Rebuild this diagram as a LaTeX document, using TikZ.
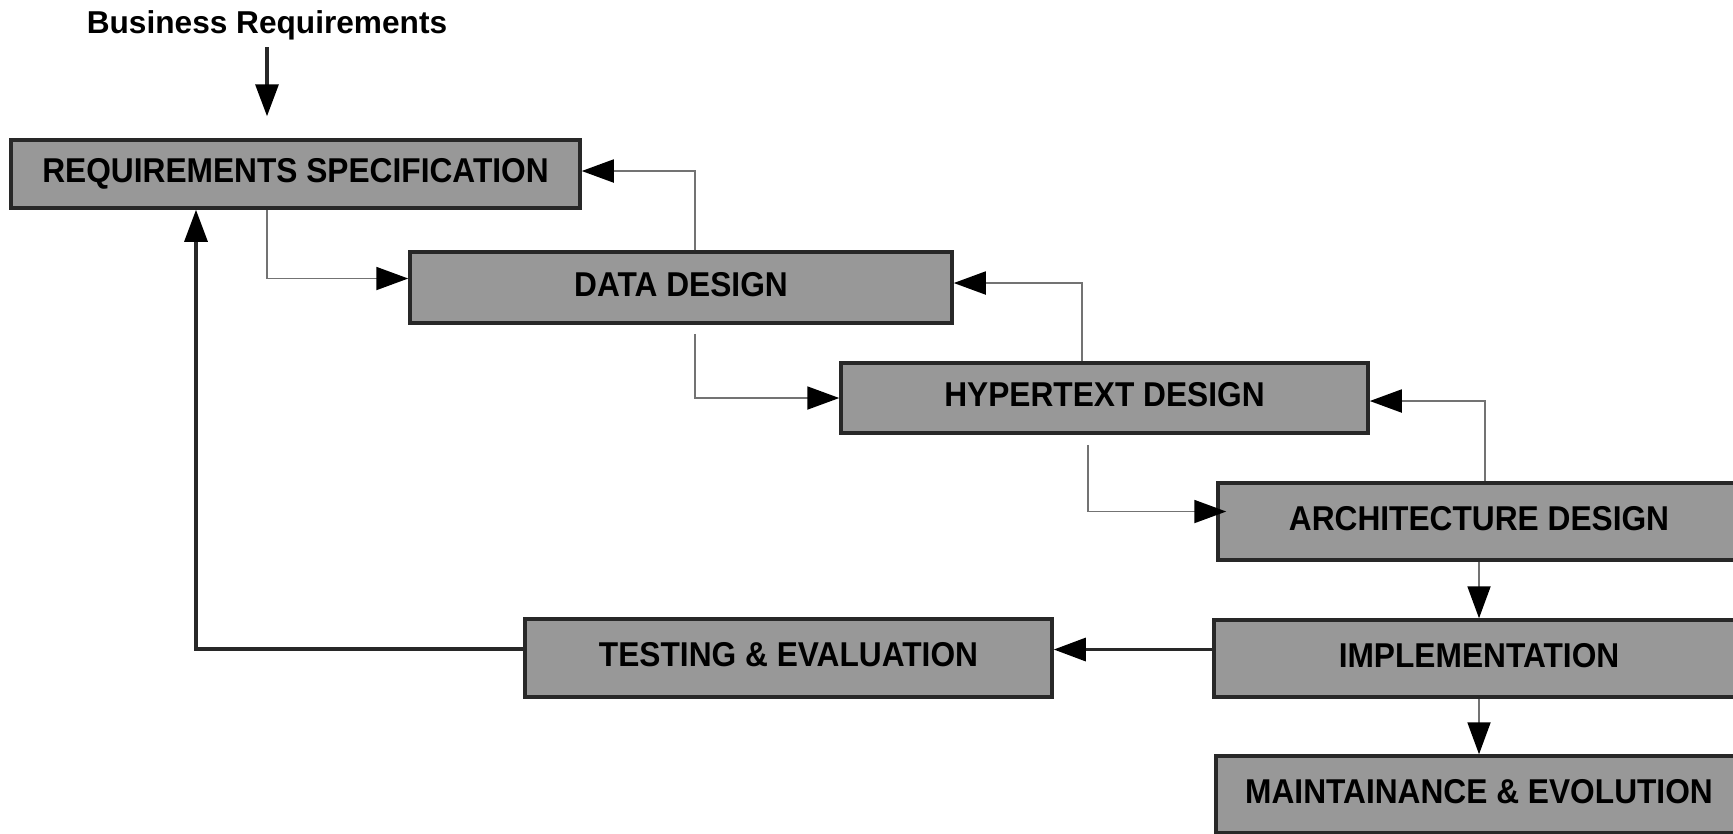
\documentclass[tikz,border=0pt]{standalone}
\usepackage{fontspec}
\setmainfont{Liberation Sans}
\newfontfamily\boxfont[FakeStretch=0.92]{Liberation Sans}
\usetikzlibrary{arrows.meta}
\definecolor{boxgray}{RGB}{152,152,152}
\definecolor{boxline}{RGB}{40,40,40}
\definecolor{thinline}{RGB}{115,115,115}

\begin{document}
\begin{tikzpicture}[
	blk/.style={draw=boxline, fill=boxgray, line width=1pt, inner sep=0pt, text height=7pt, text depth=2pt, font=\boxfont\bfseries\fontsize{9.8}{11}\selectfont},
	arr/.style={-{Triangle[length=3.2mm,width=2.3mm,color=black]}},
	fwd/.style={arr, draw=thinline, line width=0.55pt},
	dk/.style={arr, draw=boxline, line width=0.9pt}]
		\useasboundingbox (0,0) rectangle (17.33,-8.33);
		\clip (0,0) rectangle (17.33,-8.33);
		\node (v1) at (2.67,-0.25) [inner sep=2pt, font=\bfseries\fontsize{9}{10}\selectfont] {Business Requirements};
		\node (v2) at (2.955,-1.74) [blk, minimum width=5.69cm, minimum height=0.68cm] {REQUIREMENTS SPECIFICATION};
		\node (v3) at (6.81,-2.875) [blk, minimum width=5.42cm, minimum height=0.71cm] {DATA DESIGN};
		\node (v4) at (11.045,-3.98) [blk, minimum width=5.27cm, minimum height=0.70cm] {HYPERTEXT DESIGN};
		\node (v5) at (14.79,-5.215) [blk, minimum width=5.22cm, minimum height=0.77cm] {ARCHITECTURE DESIGN};
		\node (v6) at (14.79,-6.585) [blk, minimum width=5.30cm, minimum height=0.77cm] {IMPLEMENTATION};
		\node (v7) at (7.885,-6.58) [blk, minimum width=5.27cm, minimum height=0.78cm] {TESTING \& EVALUATION};
		\node (v8) at (14.79,-7.945) [blk, minimum width=5.26cm, minimum height=0.77cm] {MAINTAINANCE \& EVOLUTION};
		\draw [dk, shorten >=2.2mm] (v1.south) -- (v1.south |- v2.north);
		\draw [fwd] (2.67,0 |- v2.south) |- ([yshift=0.9mm]v3.west);
		\draw [fwd] (6.95,0 |- v3.north) |- ([yshift=0.3mm]v2.east);
		\draw [fwd, shorten <=0.9mm] (6.95,0 |- v3.south) |- (v4.west);
		\draw [fwd] (10.82,0 |- v4.north) |- ([yshift=0.45mm]v3.east);
		\draw [fwd, shorten <=1mm, shorten >=-1mm] (10.88,0 |- v4.south) |- ([yshift=1mm]v5.west);
		\draw [fwd] (14.85,0 |- v5.north) |- ([yshift=-0.3mm]v4.east);
		\draw [fwd] (v5.south) -- (v6.north);
		\draw [fwd] (v6.south) -- (v8.north);
		\draw [dk] ([yshift=0.9mm]v6.west) -- ([yshift=0.9mm]v6.west -| v7.east);
		\draw [dk] ([yshift=0.9mm]v7.west) -| (1.96,0 |- v2.south);
\end{tikzpicture}
\end{document}
